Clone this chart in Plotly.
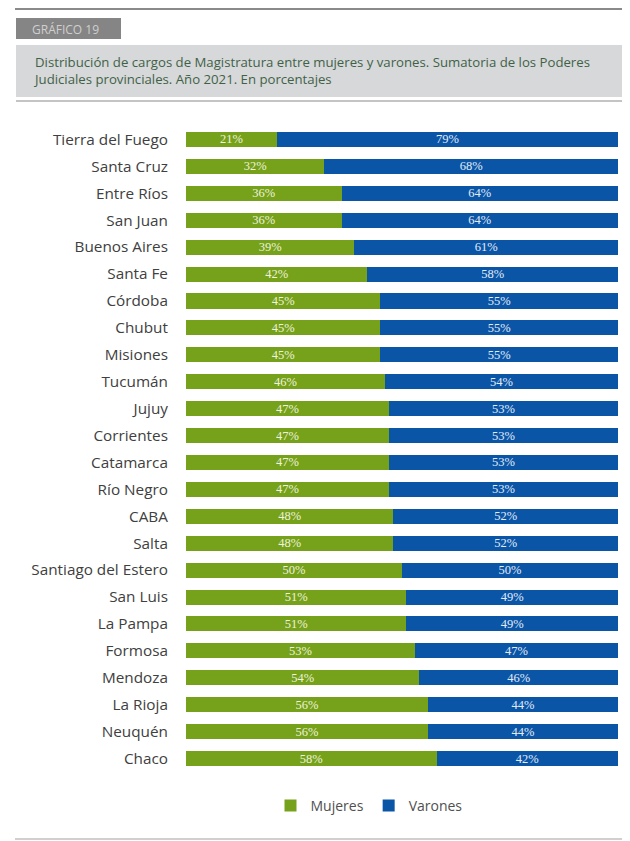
import plotly.graph_objects as go

provincias = ["Tierra del Fuego", "Santa Cruz", "Entre Ríos", "San Juan", "Buenos Aires",
              "Santa Fe", "Córdoba", "Chubut", "Misiones", "Tucumán", "Jujuy", "Corrientes",
              "Catamarca", "Río Negro", "CABA", "Salta", "Santiago del Estero", "San Luis",
              "La Pampa", "Formosa", "Mendoza", "La Rioja", "Neuquén", "Chaco"]
mujeres = [21, 32, 36, 36, 39, 42, 45, 45, 45, 46, 47, 47, 47, 47, 48, 48, 50, 51, 51, 53, 54, 56, 56, 58]
varones = [79, 68, 64, 64, 61, 58, 55, 55, 55, 54, 53, 53, 53, 53, 52, 52, 50, 49, 49, 47, 46, 44, 44, 42]

OFF = 8  # page body margin
W, H = 630 - OFF, 841 - OFF
ML = 186 - OFF
MR = W - (618 - OFF)
MT = 126 - OFF
MB = H - (772 - OFF)
PW = W - ML - MR
PH = H - MT - MB


def px(x):
    return (x - OFF - ML) / PW


def py(y):
    return (H - MB - (y - OFF)) / PH


GREEN = "#76a11b"
BLUE = "#0a55a6"

fig = go.Figure()
fig.add_trace(go.Bar(
    y=provincias, x=mujeres, orientation="h", name="Mujeres",
    marker=dict(color=GREEN, line=dict(width=0)),
    text=[f"{v}%" for v in mujeres], textposition="inside", insidetextanchor="middle",
    constraintext="none",
    textfont=dict(family="Liberation Serif", size=12.5, color="#eef3dc"),
))
fig.add_trace(go.Bar(
    y=provincias, x=varones, orientation="h", name="Varones",
    marker=dict(color=BLUE, line=dict(width=0)),
    text=[f"{v}%" for v in varones], textposition="inside", insidetextanchor="middle",
    constraintext="none",
    textfont=dict(family="Liberation Serif", size=12.5, color="#e2ecf8"),
))

shapes = [
    dict(type="line", x0=px(15), x1=px(630), y0=py(9), y1=py(9),
         line=dict(color="#8a8a8a", width=2)),
    dict(type="rect", x0=px(16), x1=px(121), y0=py(39), y1=py(18),
         fillcolor="#858585", line=dict(width=0)),
    dict(type="rect", x0=px(16), x1=px(630), y0=py(97), y1=py(45),
         fillcolor="#d7d8da", line=dict(width=0)),
    dict(type="line", x0=px(16), x1=px(630), y0=py(101), y1=py(101),
         line=dict(color="#c4c4c4", width=2)),
    dict(type="line", x0=px(15), x1=px(630), y0=py(839), y1=py(839),
         line=dict(color="#d0d0d0", width=2)),
]
for s in shapes:
    s["xref"] = "paper"
    s["yref"] = "paper"
    s["layer"] = "below"

annotations = [
    dict(text="GRÁFICO 19", x=px(30), y=py(29), xanchor="left", yanchor="middle",
         showarrow=False, font=dict(family="Open Sans", size=12, color="#cfcfcf")),
    dict(text="Distribución de cargos de Magistratura entre mujeres y varones. Sumatoria de los Poderes<br>"
              "Judiciales provinciales. Año 2021. En porcentajes",
         x=px(31), y=py(71), xanchor="left", yanchor="middle", align="left",
         showarrow=False, font=dict(family="Open Sans", size=13.2, color="#3f6247")),
]
for a in annotations:
    a["xref"] = "paper"
    a["yref"] = "paper"

fig.update_layout(
    width=W, height=H,
    margin=dict(l=ML, r=MR, t=MT, b=MB, pad=0),
    barmode="stack", bargap=0.44,
    plot_bgcolor="white", paper_bgcolor="white",
    font=dict(family="Open Sans", size=12, color="#404040"),
    xaxis=dict(range=[0, 100], visible=False, fixedrange=True),
    yaxis=dict(autorange="reversed", showgrid=False, zeroline=False, showline=False,
               ticks="outside", ticklen=14, tickcolor="rgba(0,0,0,0)",
               tickfont=dict(family="Open Sans", size=15.3, color="#404040")),
    legend=dict(orientation="h", x=px(369), y=py(806), xanchor="center", yanchor="middle",
                font=dict(family="Open Sans", size=14, color="#505050"),
                itemwidth=30, traceorder="normal"),
    shapes=shapes, annotations=annotations,
)

fig.write_html("out.html")
